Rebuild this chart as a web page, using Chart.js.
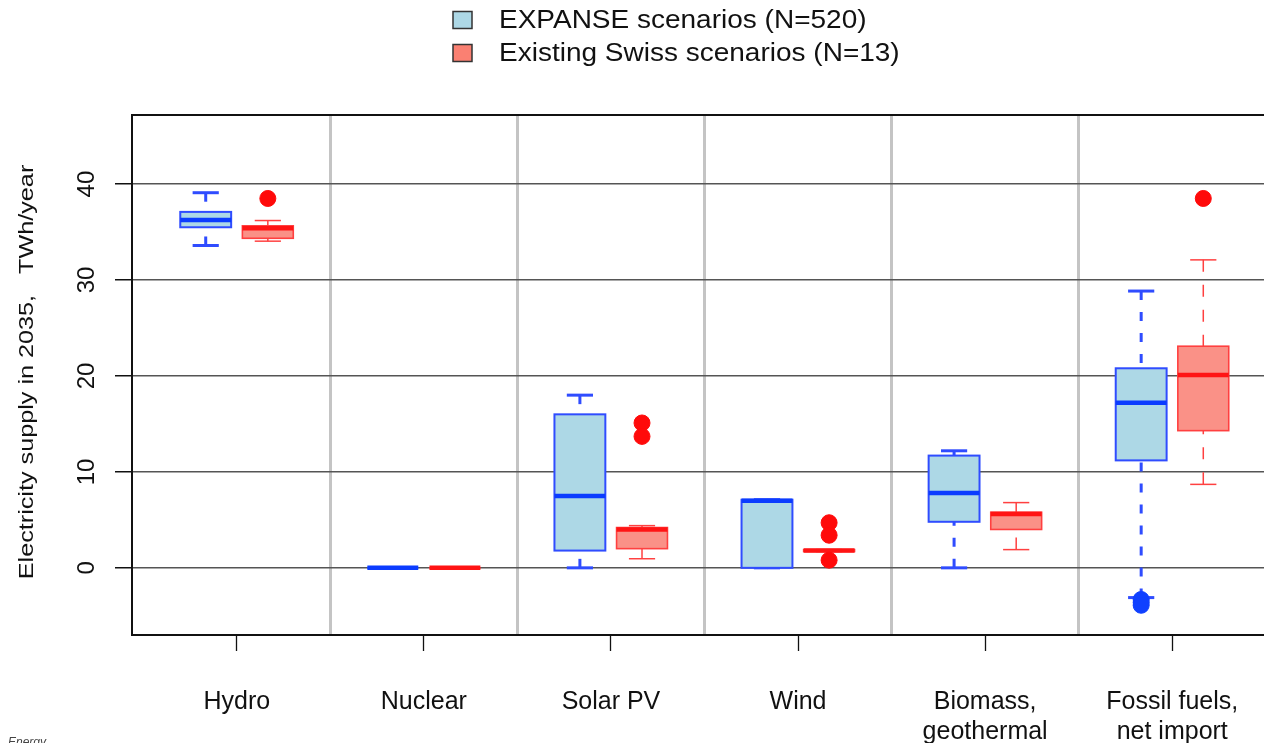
<!DOCTYPE html>
<html>
<head>
<meta charset="utf-8">
<script src="https://cdn.jsdelivr.net/npm/chart.js@4.4.1/dist/chart.umd.min.js"></script>
<style>
  html, body { margin: 0; padding: 0; background: #fff; overflow: hidden; }
  canvas { display: block; }
</style>
</head>
<body>
<canvas id="chart" width="1300" height="743"></canvas>
<script>
// categories and tick labels
const categories = [['Hydro'], ['Nuclear'], ['Solar PV'], ['Wind'], ['Biomass,', 'geothermal'], ['Fossil fuels,', 'net import']];
const yTickValues = [0, 10, 20, 30, 40];
const seriesNames = ['EXPANSE scenarios (N=520)', 'Existing Swiss scenarios (N=13)'];

// EXPANSE scenarios: five-number summaries + outliers (TWh/year)
const expMin = [33.6, 0, 0, 0, 0, -3.1];
const expQ1 = [35.5, 0, 1.8, 0, 4.8, 11.2];
const expMed = [36.25, 0, 7.5, 7.0, 7.8, 17.2];
const expQ3 = [37.1, 0, 16.0, 7.1, 11.7, 20.8];
const expMax = [39.1, 0, 18.0, 7.1, 12.2, 28.85];
const expOut = [[], [], [], [], [], [-3.3, -3.6, -3.9]];

// existing Swiss scenarios
const swMin = [34.05, 0, 0.95, 1.7, 1.9, 8.7];
const swQ1 = [34.35, 0, 2.0, 1.7, 4.0, 14.3];
const swMed = [35.4, 0, 4.0, 1.8, 5.6, 20.1];
const swQ3 = [35.65, 0, 4.2, 1.9, 5.8, 23.1];
const swMax = [36.2, 0, 4.4, 1.9, 6.8, 32.1];
const swOut = [[38.5], [], [15.1, 13.7], [4.7, 3.4, 0.8], [], [38.5]];

const SHIFT = 0.166;     // box offset from category centre (x units)
const BOX_HALF = 0.136;
const CAP_HALF = 0.07;

const groups = [
  { min: expMin, q1: expQ1, med: expMed, q3: expQ3, max: expMax, out: expOut, shift: -SHIFT,
    fill: '#add8e6', line: '#2f4cff', median: '#0b3cff', border: 2, whisker: 3, dash: [9, 12], point: '#1040ff', key: '#add8e6' },
  { min: swMin, q1: swQ1, med: swMed, q3: swQ3, max: swMax, out: swOut, shift: SHIFT,
    fill: '#fa9187', line: '#ff4040', median: '#ff1414', border: 1.6, whisker: 1.5, dash: [12, 13], point: '#ff0a0a', key: '#fa8072' }
];

function seg(ctx, x1, y1, x2, y2) {
  ctx.beginPath();
  ctx.moveTo(x1, y1);
  ctx.lineTo(x2, y2);
  ctx.stroke();
}

const boxPlugin = {
  id: 'boxes',
  beforeDatasetsDraw(chart) {
    const { ctx, scales: { x, y } } = chart;
    ctx.save();
    groups.forEach(g => {
      g.min.forEach((_, i) => {
        const c = i + 1 + g.shift;
        const left = x.getPixelForValue(c - BOX_HALF);
        const right = x.getPixelForValue(c + BOX_HALF);
        const mid = x.getPixelForValue(c);
        const capL = x.getPixelForValue(c - CAP_HALF);
        const capR = x.getPixelForValue(c + CAP_HALF);
        const pMin = y.getPixelForValue(g.min[i]);
        const pQ1 = y.getPixelForValue(g.q1[i]);
        const pMed = y.getPixelForValue(g.med[i]);
        const pQ3 = y.getPixelForValue(g.q3[i]);
        const pMax = y.getPixelForValue(g.max[i]);

        ctx.strokeStyle = g.line;
        ctx.lineWidth = g.whisker;
        ctx.setLineDash(g.dash);
        seg(ctx, mid, pMin, mid, pQ1);
        seg(ctx, mid, pMax, mid, pQ3);
        ctx.setLineDash([]);
        seg(ctx, capL, pMin, capR, pMin);
        seg(ctx, capL, pMax, capR, pMax);

        ctx.fillStyle = g.fill;
        ctx.fillRect(left, pQ3, right - left, pQ1 - pQ3);
        ctx.lineWidth = g.border;
        ctx.strokeRect(left, pQ3, right - left, pQ1 - pQ3);

        ctx.strokeStyle = g.median;
        ctx.lineWidth = 4.5;
        seg(ctx, left, pMed, right, pMed);
      });
    });
    ctx.restore();
  }
};

// rotated y labels, axis title, legend
const textPlugin = {
  id: 'texts',
  afterDraw(chart) {
    const { ctx, scales: { y }, chartArea } = chart;
    ctx.save();
    ctx.fillStyle = '#111';
    ctx.textAlign = 'center';
    ctx.textBaseline = 'middle';
    ctx.font = '24px "Liberation Sans", Arial, sans-serif';
    yTickValues.forEach(v => {
      ctx.save();
      ctx.translate(87, y.getPixelForValue(v));
      ctx.rotate(-Math.PI / 2);
      ctx.fillText(String(v), 0, 0);
      ctx.restore();
    });

    ctx.save();
    ctx.translate(27, (chartArea.top + chartArea.bottom) / 2 - 3);
    ctx.rotate(-Math.PI / 2);
    ctx.scale(1.2, 1);
    ctx.font = '21px "Liberation Sans", Arial, sans-serif';
    ctx.fillText('Electricity supply in 2035,   TWh/year', 0, 0);
    ctx.restore();

    // legend
    const rows = [20, 53];
    groups.forEach((g, k) => {
      ctx.fillStyle = g.key;
      ctx.fillRect(453, rows[k] - 8.5, 19, 17);
      ctx.strokeStyle = '#333';
      ctx.lineWidth = 1.5;
      ctx.strokeRect(453, rows[k] - 8.5, 19, 17);
      ctx.save();
      ctx.translate(499, rows[k] + 1);
      ctx.scale(1.12, 1);
      ctx.fillStyle = '#111';
      ctx.textAlign = 'left';
      ctx.font = '25px "Liberation Sans", Arial, sans-serif';
      ctx.fillText(seriesNames[k], 0, 0);
      ctx.restore();
    });

    ctx.fillStyle = '#444';
    ctx.textAlign = 'left';
    ctx.textBaseline = 'top';
    ctx.font = 'italic 12px "Liberation Sans", Arial, sans-serif';
    ctx.fillText('Energy', 8, 737);
    ctx.restore();
  }
};

const outlierSets = groups.map((g, k) => ({
  label: seriesNames[k],
  data: g.out.flatMap((vals, i) => vals.map(v => ({ x: i + 1 + g.shift, y: v }))),
  pointRadius: 8,
  pointHoverRadius: 8,
  pointBackgroundColor: g.point,
  pointBorderColor: g.point,
  pointBorderWidth: 1
}));

new Chart(document.getElementById('chart'), {
  type: 'scatter',
  data: { datasets: outlierSets },
  options: {
    responsive: false,
    animation: false,
    events: [],
    layout: { padding: { left: 0, top: 115, right: 23, bottom: 0 } },
    plugins: { legend: { display: false }, tooltip: { enabled: false } },
    scales: {
      x: {
        type: 'linear',
        position: 'bottom',
        min: 0.44,
        max: 6.56,
        afterBuildTicks: s => { s.ticks = categories.map((_, i) => ({ value: i + 1 })); },
        afterFit: s => { s.height = 108; },
        ticks: {
          callback: (v, i) => categories[i],
          color: '#111',
          font: { family: '"Liberation Sans", Arial, sans-serif', size: 25, lineHeight: '30px' },
          padding: 36,
          maxRotation: 0,
          autoSkip: false
        },
        grid: { drawOnChartArea: false, tickLength: 16, tickColor: '#111', tickWidth: 1.3 },
        border: { color: '#111', width: 2 }
      },
      xSep: {
        type: 'linear',
        position: 'top',
        min: 0.44,
        max: 6.56,
        afterBuildTicks: s => { s.ticks = categories.slice(1).map((_, i) => ({ value: i + 1.5 })); },
        afterFit: s => { s.height = 0; },
        ticks: { display: false },
        grid: { color: '#c4c4c4', lineWidth: 3, drawTicks: false },
        border: { color: '#111', width: 2 }
      },
      y: {
        type: 'linear',
        min: -7,
        max: 47.2,
        afterBuildTicks: s => { s.ticks = yTickValues.map(v => ({ value: v })); },
        afterFit: s => { s.width = 132; },
        ticks: { display: false },
        grid: { color: '#555', lineWidth: 1.5, tickLength: 17, tickColor: '#111', tickWidth: 1.5 },
        border: { color: '#111', width: 2 }
      }
    }
  },
  plugins: [boxPlugin, textPlugin]
});
</script>
</body>
</html>
